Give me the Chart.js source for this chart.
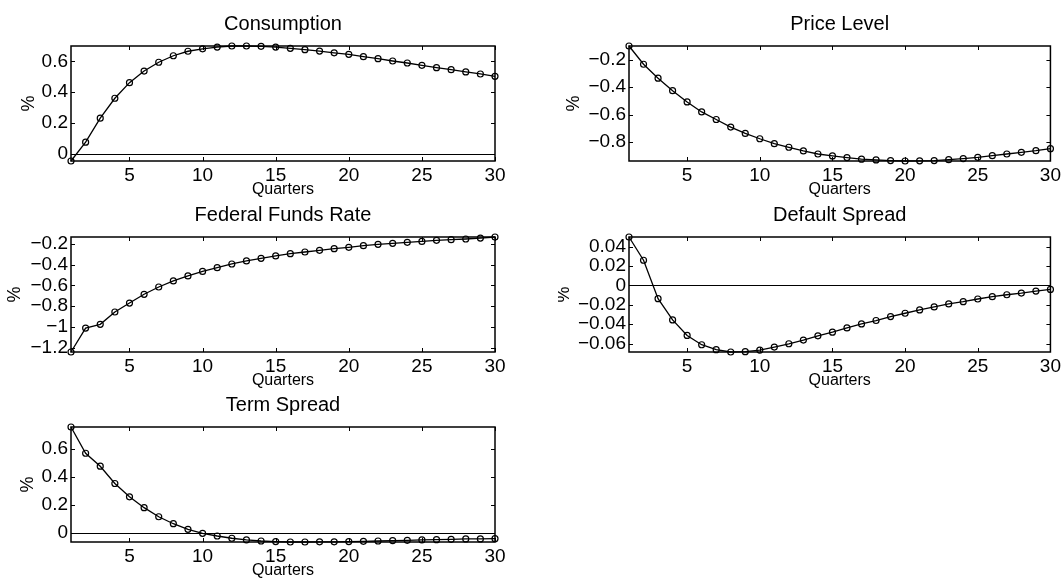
<!DOCTYPE html>
<html>
<head>
<meta charset="utf-8">
<script src="https://cdn.jsdelivr.net/npm/chart.js@4.4.0/dist/chart.umd.min.js"></script>
<style>
  body { margin: 0; background: #fff; width: 1064px; height: 579px; position: relative; overflow: hidden; }
  canvas { position: absolute; }
</style>
</head>
<body>
<canvas id="c1"></canvas>
<canvas id="c2"></canvas>
<canvas id="c3"></canvas>
<canvas id="c4"></canvas>
<canvas id="c5"></canvas>
<script>
const quarters = [1, 2, 3, 4, 5, 6, 7, 8, 9, 10, 11, 12, 13, 14, 15, 16, 17, 18, 19, 20, 21, 22, 23, 24, 25, 26, 27, 28, 29, 30];

const consumption = [-0.045, 0.077, 0.232, 0.361, 0.462, 0.537, 0.594, 0.636, 0.665, 0.681, 0.692, 0.699, 0.699, 0.697, 0.692,
    0.684, 0.675, 0.666, 0.655, 0.645, 0.630, 0.617, 0.602, 0.589, 0.574, 0.559, 0.546, 0.531, 0.518, 0.503];

const priceLevel = [-0.100, -0.233, -0.334, -0.425, -0.507, -0.580, -0.635, -0.690, -0.736, -0.775, -0.811, -0.837, -0.864, -0.886, -0.900,
    -0.912, -0.924, -0.929, -0.934, -0.937, -0.936, -0.934, -0.927, -0.919, -0.910, -0.898, -0.886, -0.874, -0.862, -0.847];

const fedFunds = [-1.240, -1.010, -0.974, -0.856, -0.770, -0.686, -0.616, -0.558, -0.510, -0.466, -0.430, -0.395, -0.366, -0.341, -0.318,
    -0.296, -0.280, -0.264, -0.248, -0.235, -0.219, -0.206, -0.197, -0.187, -0.178, -0.168, -0.162, -0.155, -0.146, -0.136];

const defaultSpread = [0.0500, 0.0260, -0.0137, -0.0356, -0.0516, -0.0612, -0.0663, -0.0687, -0.0684, -0.0667, -0.0636, -0.0602, -0.0564, -0.0520, -0.0482,
    -0.0438, -0.0397, -0.0362, -0.0321, -0.0287, -0.0253, -0.0222, -0.0191, -0.0168, -0.0140, -0.0116, -0.0096, -0.0079, -0.0058, -0.0041];

const termSpread = [0.757, 0.569, 0.476, 0.352, 0.257, 0.179, 0.114, 0.064, 0.024, -0.005, -0.024, -0.040, -0.052, -0.060, -0.064,
    -0.067, -0.067, -0.066, -0.066, -0.064, -0.062, -0.060, -0.057, -0.055, -0.052, -0.050, -0.048, -0.045, -0.045, -0.043];

// Tick labels
const xTicks = [5, 10, 15, 20, 25, 30];
const consumptionTicks = [0, 0.2, 0.4, 0.6];
const priceTicks = [-0.8, -0.6, -0.4, -0.2];
const fedTicks = [-1.2, -1, -0.8, -0.6, -0.4, -0.2];
const defaultTicks = [-0.06, -0.04, -0.02, 0, 0.02, 0.04];
const termTicks = [0, 0.2, 0.4, 0.6];

const FONT = "'Liberation Sans', Arial, Helvetica, sans-serif";

// canvas layout: chart area is 71px from the canvas left, 46px from its top
const panels = [
    { id: 'c1', title: 'Consumption', values: consumption, yTicks: consumptionTicks, left: 0, top: 0, width: 540, boxW: 424, yPad: 20 },
    { id: 'c2', title: 'Price Level', values: priceLevel, yTicks: priceTicks, left: 558, top: 0, width: 506, boxW: 425, yPad: 7 },
    { id: 'c3', title: 'Federal Funds Rate', values: fedFunds, yTicks: fedTicks, left: 0, top: 191, width: 540, boxW: 424, yPad: 6 },
    { id: 'c4', title: 'Default Spread', values: defaultSpread, yTicks: defaultTicks, left: 558, top: 191, width: 506, boxW: 425, yPad: -3 },
    { id: 'c5', title: 'Term Spread', values: termSpread, yTicks: termTicks, left: 0, top: 381, width: 540, boxW: 424, yPad: 19 }
];

const fmt = v => String(v).replace('-', '\u2212');

// MATLAB style box with inward ticks and a zero line
const frame = {
    id: 'frame',
    beforeDatasetsDraw(chart) {
        const { ctx, chartArea: a, scales: { y } } = chart;
        if (y.min < 0 && y.max > 0) {
            const py = Math.round(y.getPixelForValue(0)) + 0.5;
            ctx.save();
            ctx.strokeStyle = '#000';
            ctx.lineWidth = 1;
            ctx.beginPath();
            ctx.moveTo(a.left, py);
            ctx.lineTo(a.right, py);
            ctx.stroke();
            ctx.restore();
        }
    },
    afterDraw(chart) {
        const { ctx, chartArea: a, scales: { x, y } } = chart;
        const len = 4;
        ctx.save();
        ctx.strokeStyle = '#000';
        ctx.lineWidth = 1;
        ctx.beginPath();
        x.ticks.forEach(t => {
            const px = Math.round(x.getPixelForValue(t.value)) + 0.5;
            ctx.moveTo(px, a.bottom); ctx.lineTo(px, a.bottom - len);
            ctx.moveTo(px, a.top); ctx.lineTo(px, a.top + len);
        });
        y.ticks.forEach(t => {
            const py = Math.round(y.getPixelForValue(t.value)) + 0.5;
            ctx.moveTo(a.left, py); ctx.lineTo(a.left + len, py);
            ctx.moveTo(a.right, py); ctx.lineTo(a.right - len, py);
        });
        ctx.stroke();
        ctx.lineWidth = 1.5;
        ctx.strokeRect(a.left, a.top, a.right - a.left, a.bottom - a.top);
        ctx.restore();
    }
};

panels.forEach(p => {
    const canvas = document.getElementById(p.id);
    canvas.width = p.width;
    canvas.height = 206;
    canvas.style.left = p.left + 'px';
    canvas.style.top = p.top + 'px';

    new Chart(canvas, {
        type: 'line',
        data: {
            datasets: [{
                data: quarters.map((q, i) => ({ x: q, y: p.values[i] })),
                borderColor: '#000',
                borderWidth: 1.3,
                pointRadius: 3,
                pointBorderWidth: 1.2,
                pointBorderColor: '#000',
                pointBackgroundColor: 'rgba(0,0,0,0)',
                tension: 0,
                clip: false
            }]
        },
        options: {
            responsive: false,
            animation: false,
            devicePixelRatio: 1,
            layout: { padding: { left: 0, top: 0, bottom: 0, right: p.width - 71 - p.boxW } },
            plugins: {
                legend: { display: false },
                tooltip: { enabled: false },
                title: {
                    display: true,
                    text: p.title,
                    color: '#000',
                    fullSize: false,
                    font: { family: FONT, size: 20, weight: 'normal', lineHeight: 1.2 },
                    padding: { top: 12, bottom: 10 }
                }
            },
            scales: {
                x: {
                    type: 'linear',
                    min: 1,
                    max: 30,
                    afterBuildTicks: s => { s.ticks = xTicks.map(v => ({ value: v })); },
                    afterFit: s => { s.height = 45; },
                    grid: { display: false, drawTicks: false },
                    border: { display: false },
                    ticks: { color: '#000', padding: 3, autoSkip: false, maxRotation: 0, font: { family: FONT, size: 19 }, callback: v => fmt(v) },
                    title: { display: true, text: 'Quarters', color: '#000', font: { family: FONT, size: 16 }, padding: { top: 0, bottom: 7 } }
                },
                y: {
                    type: 'linear',
                    min: Math.min(...p.values),
                    max: Math.max(...p.values),
                    afterBuildTicks: s => { s.ticks = p.yTicks.map(v => ({ value: v })); },
                    afterFit: s => { s.width = 71; },
                    grid: { display: false, drawTicks: false },
                    border: { display: false },
                    ticks: { color: '#000', padding: 3, autoSkip: false, font: { family: FONT, size: 19 }, callback: v => fmt(v) },
                    title: { display: true, text: '%', color: '#000', font: { family: FONT, size: 18, lineHeight: 1 }, padding: { top: p.yPad, bottom: 0 } }
                }
            }
        },
        plugins: [frame]
    });
});
</script>
</body>
</html>
